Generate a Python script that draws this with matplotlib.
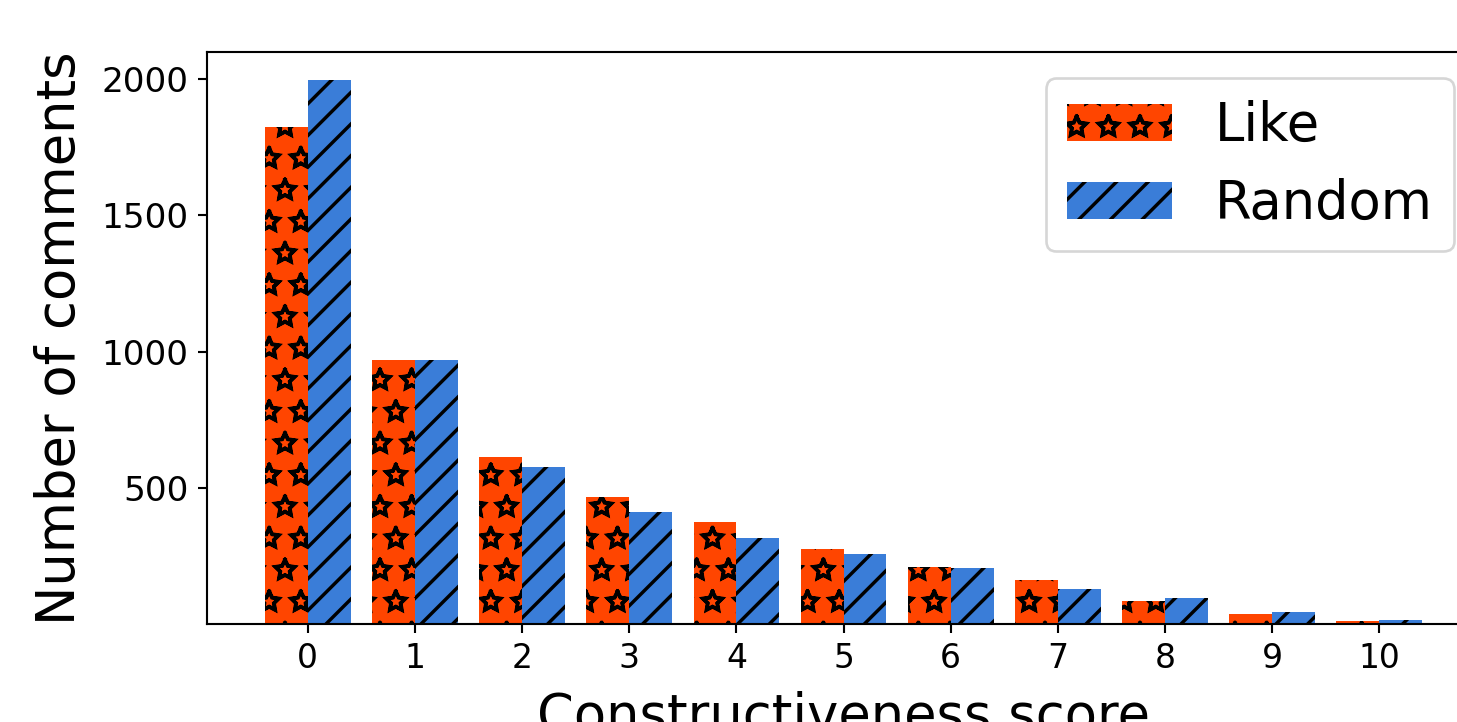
import matplotlib
matplotlib.use("Agg")
import matplotlib.pyplot as plt
import matplotlib.hatch
import numpy as np

# 原图里的星形花纹是空心的，新版 matplotlib 默认实心，这里改回空心
matplotlib.hatch.Stars.filled = False
plt.rcParams["hatch.linewidth"] = 1.3

scores = list(range(11))
like_counts = [1825, 969, 613, 466, 374, 275, 210, 161, 84, 37, 11]
random_counts = [1997, 969, 576, 411, 316, 257, 205, 128, 95, 44, 15]
ytick_vals = [500, 1000, 1500, 2000]

DPI = 190
fig = plt.figure(figsize=(1457 / DPI, 722 / DPI), dpi=DPI)
# 原图右侧和底部被裁掉一截，所以坐标轴故意伸出画布
ax = fig.add_axes([0.1421, 0.1357, 0.8737, 0.7922])

x = np.arange(len(scores))
w = 0.4
ax.bar(x - w / 2, like_counts, w, color="#ff4500", hatch="*", label="Like")
ax.bar(x + w / 2, random_counts, w, color="#3a7dd8", hatch="//", label="Random")

ax.set_xticks(x)
ax.set_xticklabels([str(s) for s in scores], fontsize=12.5)
ax.set_yticks(ytick_vals)
ax.set_yticklabels([str(v) for v in ytick_vals], fontsize=13)
ax.set_ylim(0, 2100)
ax.set_xlim(-0.94, 10.94)

ax.set_xlabel("Constructiveness score", fontsize=20, labelpad=6)
ax.set_ylabel("Number of comments", fontsize=20, labelpad=6)
ax.legend(loc="upper right", fontsize=20)

fig.savefig("out.png", dpi=DPI)
